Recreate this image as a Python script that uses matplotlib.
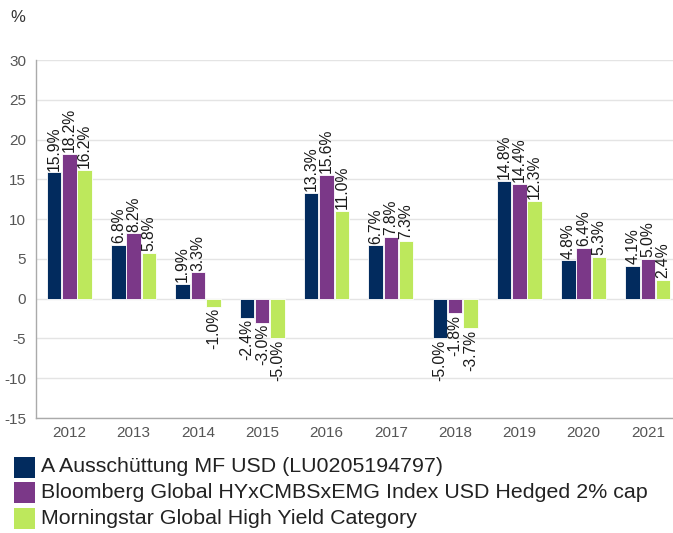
import matplotlib
matplotlib.use("Agg")
import matplotlib.pyplot as plt
from matplotlib.patches import Rectangle
import numpy as np

plt.rcParams['font.family'] = ['Liberation Sans', 'DejaVu Sans']

years = ["2012", "2013", "2014", "2015", "2016", "2017", "2018", "2019", "2020", "2021"]
fund = [15.9, 6.8, 1.9, -2.4, 13.3, 6.7, -5.0, 14.8, 4.8, 4.1]
index = [18.2, 8.2, 3.3, -3.0, 15.6, 7.8, -1.8, 14.4, 6.4, 5.0]
category = [16.2, 5.8, -1.0, -5.0, 11.0, 7.3, -3.7, 12.3, 5.3, 2.4]
series_names = ["A Ausschüttung MF USD (LU0205194797)",
                "Bloomberg Global HYxCMBSxEMG Index USD Hedged 2% cap",
                "Morningstar Global High Yield Category"]
colors = ["#022B5E", "#7B3888", "#BDE85C"]
yticks = [-15, -10, -5, 0, 5, 10, 15, 20, 25, 30]

W, H = 673, 533
fig = plt.figure(figsize=(W / 100, H / 100), dpi=100)
ax = fig.add_axes([36 / W, (H - 418) / H, (W - 36) / W, 358 / H])

x = np.arange(len(years))
bw = 0.225
step = 0.238
for i, (vals, col) in enumerate(zip([fund, index, category], colors)):
    xs = x + (i - 1) * step
    ax.bar(xs, vals, width=bw, color=col, edgecolor="white", linewidth=0.6, zorder=3)
    for xi, v in zip(xs, vals):
        if v >= 0:
            ax.annotate(f"{v:.1f}%", (xi, v), xytext=(0, 1.2), textcoords="offset points",
                        rotation=90, ha="center", va="bottom", fontsize=11.3, color="#1a1a1a")
        else:
            ax.annotate(f"{v:.1f}%", (xi, v), xytext=(0, -1.2), textcoords="offset points",
                        rotation=90, ha="center", va="top", fontsize=11.3, color="#1a1a1a")

ax.set_ylim(-15, 30)
ax.set_xlim(-0.52, 9.39)
ax.set_yticks(yticks)
ax.set_yticklabels([str(t) for t in yticks])
ax.set_xticks(x)
ax.set_xticklabels(years)
ax.tick_params(axis="both", length=0, labelsize=11, colors="#555555")
ax.tick_params(axis="y", pad=7)
ax.tick_params(axis="x", pad=6)
ax.grid(axis="y", color="#E4E4E4", linewidth=1, zorder=0)
ax.set_axisbelow(True)
for s in ["top", "right"]:
    ax.spines[s].set_visible(False)
for s in ["left", "bottom"]:
    ax.spines[s].set_color("#AAAAAA")
    ax.spines[s].set_linewidth(1)
ax.spines["bottom"].set_zorder(4)

fig.text(10 / W, 1 - 18 / H, "%", fontsize=12, color="#333333", va="center", ha="left")

row_y = [467, 492, 518]
for name, col, ry in zip(series_names, colors, row_y):
    fig.patches.append(Rectangle((14 / W, 1 - (ry + 10.5) / H), 21 / W, 21 / H,
                                 transform=fig.transFigure, facecolor=col, edgecolor="none"))
    fig.text(41 / W, 1 - ry / H, name, fontsize=15.4, color="#222222", va="center", ha="left")

fig.savefig("out.png", dpi=100)
